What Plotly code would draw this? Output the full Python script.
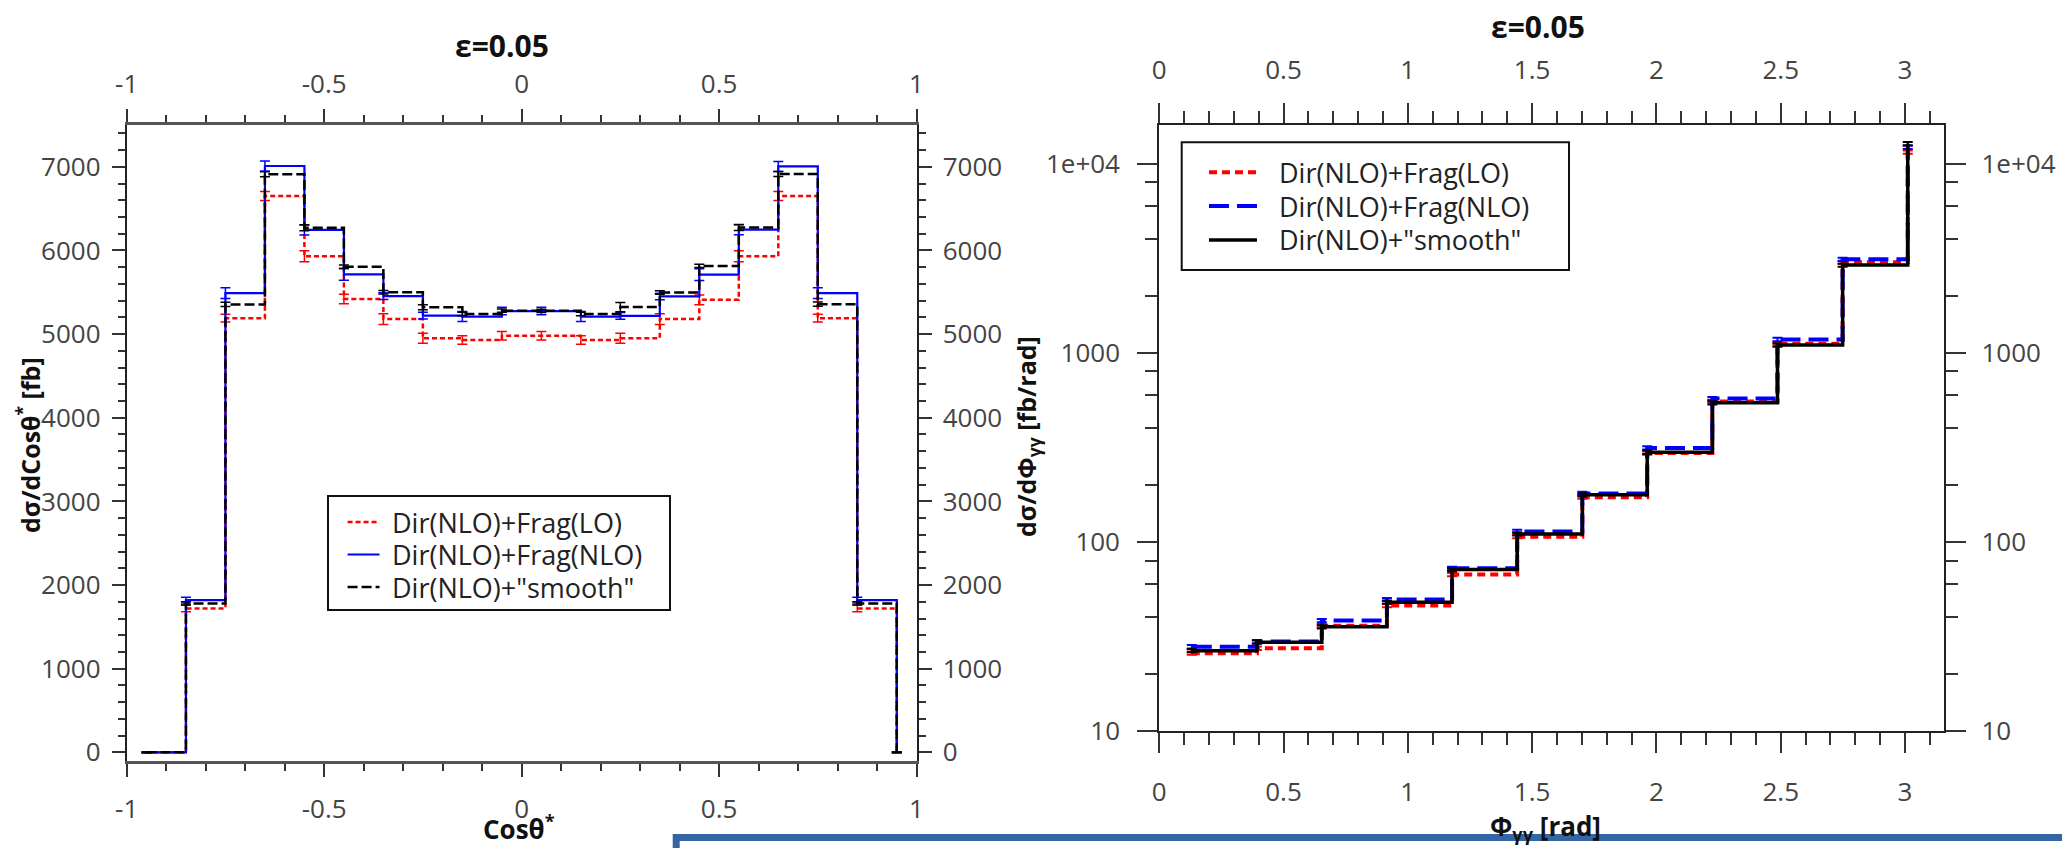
import plotly.graph_objects as go

# ---------------- data: cos(theta*) distribution ----------------
cos_x = [-0.95, -0.85, -0.75, -0.65, -0.55, -0.45, -0.35, -0.25, -0.15, -0.05,
         0.05, 0.15, 0.25, 0.35, 0.45, 0.55, 0.65, 0.75, 0.85, 0.95]
cos_frag_lo = [0, 1720, 5190, 6650, 5930, 5420, 5180, 4950, 4930, 4980,
               4980, 4930, 4950, 5180, 5410, 5930, 6650, 5190, 1720, 0]
cos_frag_lo_err = [5, 40, 46, 54, 66, 58, 64, 60, 50, 50,
                   50, 50, 60, 64, 58, 66, 54, 46, 40, 5]
cos_frag_nlo = [0, 1820, 5490, 7010, 6245, 5715, 5455, 5220, 5210, 5275,
                5275, 5210, 5218, 5450, 5710, 6248, 7005, 5490, 1820, 0]
cos_frag_nlo_err = [5, 35, 64, 60, 60, 70, 40, 40, 60, 45,
                    45, 60, 40, 40, 70, 60, 60, 64, 35, 5]
cos_smooth = [0, 1780, 5355, 6912, 6272, 5805, 5500, 5322, 5240, 5280,
              5278, 5240, 5323, 5498, 5815, 6275, 6914, 5358, 1780, 0]
cos_smooth_err = [5, 20, 25, 30, 35, 20, 20, 30, 20, 20,
                  20, 20, 56, 20, 20, 35, 30, 25, 20, 5]

# ---------------- data: azimuthal separation distribution ----------------
phi_x = [0.131, 0.393, 0.654, 0.916, 1.178, 1.440, 1.702, 1.963, 2.225, 2.487, 2.749, 3.011]
phi_frag_lo = [25.9, 27.5, 36.2, 46.2, 67.4, 107, 173, 296, 555, 1120, 3020, 11550]
phi_frag_nlo = [28.0, 29.8, 38.5, 49.7, 72.8, 114, 181, 315, 575, 1180, 3130, 12250]
phi_smooth = [26.7, 29.6, 35.7, 48.2, 71.6, 110.6, 178, 299, 546, 1102, 2920, 12800]
phi_rel_err = 0.02

# ---------------- tick labels ----------------
cos_ticks = [-1, -0.5, 0, 0.5, 1]
cos_ticktext = ["-1", "-0.5", "0", "0.5", "1"]
cos_yticks = [0, 1000, 2000, 3000, 4000, 5000, 6000, 7000]
phi_ticks = [0, 0.5, 1, 1.5, 2, 2.5, 3]
phi_ticktext = ["0", "0.5", "1", "1.5", "2", "2.5", "3"]
phi_yticks = [10, 100, 1000, 10000]
phi_yticktext = ["10", "100", "1000", "1e+04"]
phi_yminor = [m * 10 ** d for d in range(1, 5) for m in (2, 4, 6, 8)]

names = ['Dir(NLO)+Frag(LO)', 'Dir(NLO)+Frag(NLO)', 'Dir(NLO)+"smooth"']

W, H = 2062, 848


def px(xp):
    return xp / W


def py(yp):
    return 1 - yp / H


FONT = "Open Sans"
TICKFONT = dict(family=FONT, size=26, color="#444")

# line styles: (colour, dash, width)
left_styles = [("#ff0000", "5px,3px", 2.5), ("#0000ff", "solid", 2.2), ("#000000", "10px,4px", 2.5)]
right_styles = [("#ff0000", "8px,5px", 4), ("#0000ff", "20px,8px", 4), ("#000000", "solid", 3.5)]

fig = go.Figure()

# left panel traces
for vals, errs, (col, dash, lw) in zip([cos_frag_lo, cos_frag_nlo, cos_smooth],
                                       [cos_frag_lo_err, cos_frag_nlo_err, cos_smooth_err],
                                       left_styles):
    fig.add_trace(go.Scatter(
        x=cos_x, y=vals, mode="lines", xaxis="x", yaxis="y", showlegend=False,
        line=dict(color=col, dash=dash, width=lw, shape="hv"),
        error_y=dict(type="data", array=errs, color=col, thickness=1.5, width=5),
    ))

# right panel traces
for vals, (col, dash, lw) in zip([phi_frag_lo, phi_frag_nlo, phi_smooth], right_styles):
    fig.add_trace(go.Scatter(
        x=phi_x, y=vals, mode="lines", xaxis="x2", yaxis="y2", showlegend=False,
        line=dict(color=col, dash=dash, width=lw, shape="hv"),
        error_y=dict(type="data", array=[v * phi_rel_err for v in vals],
                     color=col, thickness=2, width=5),
    ))

# empty traces so the mirrored (top / right) axes get drawn
fig.add_trace(go.Scatter(x=[None], y=[None], xaxis="x3", yaxis="y3", showlegend=False, hoverinfo="skip"))
fig.add_trace(go.Scatter(x=[None], y=[None], xaxis="x4", yaxis="y4", showlegend=False, hoverinfo="skip"))

L_dom_x = [px(126.7), px(916.5)]
L_dom_y = [py(760.7), py(125)]
R_dom_x = [px(1159.2), px(1944.3)]
R_dom_y = [py(731.3), py(125)]

common = dict(showgrid=False, zeroline=False, showline=True, ticks="outside",
              tickwidth=2, tickcolor="#333", tickfont=TICKFONT, automargin=False)

left_x = dict(common, domain=L_dom_x, range=[-1, 1], tickmode="array",
              tickvals=cos_ticks, ticktext=cos_ticktext, ticklen=13,
              linecolor="#555", linewidth=3,
              minor=dict(tickmode="linear", tick0=0, dtick=0.1, ticklen=7,
                         tickwidth=2, tickcolor="#333", ticks="outside"))
left_y = dict(common, domain=L_dom_y, range=[-100, 7500], tickmode="array",
              tickvals=cos_yticks, ticktext=[str(v) for v in cos_yticks], ticklen=13,
              linecolor="#222", linewidth=2,
              minor=dict(tickmode="linear", tick0=0, dtick=200, ticklen=7,
                         tickwidth=2, tickcolor="#333", ticks="outside"))
right_x = dict(common, domain=R_dom_x, range=[0, 3.158], tickmode="array",
               tickvals=phi_ticks, ticktext=phi_ticktext, ticklen=20,
               linecolor="#222", linewidth=2,
               minor=dict(tickmode="linear", tick0=0, dtick=0.1, ticklen=12,
                          tickwidth=2, tickcolor="#333", ticks="outside"))
right_y = dict(common, domain=R_dom_y, type="log", range=[1, 4.206], tickmode="array",
               tickvals=phi_yticks, ticktext=phi_yticktext, ticklen=20,
               linecolor="#222", linewidth=2,
               minor=dict(tickmode="array", tickvals=phi_yminor, ticklen=12,
                          tickwidth=2, tickcolor="#333", ticks="outside"))

fig.update_layout(
    width=W, height=H,
    margin=dict(l=0, r=0, t=0, b=0, autoexpand=False),
    paper_bgcolor="white", plot_bgcolor="white",
    showlegend=False,
    xaxis=dict(left_x, anchor="y", side="bottom", ticklabelstandoff=10),
    xaxis3=dict(left_x, anchor="y", side="top", overlaying="x", ticklabelstandoff=6),
    yaxis=dict(left_y, anchor="x", side="left", ticklabelstandoff=6),
    yaxis3=dict(left_y, anchor="x", side="right", overlaying="y", ticklabelstandoff=6),
    xaxis2=dict(right_x, anchor="y2", side="bottom", ticklabelstandoff=16),
    xaxis4=dict(right_x, anchor="y2", side="top", overlaying="x2", ticklabelstandoff=14),
    yaxis2=dict(right_y, anchor="x2", side="left", ticklabelstandoff=12),
    yaxis4=dict(right_y, anchor="x2", side="right", overlaying="y2", ticklabelstandoff=10),
)

shapes = []
annotations = []

# legend boxes: (box x0, y0, x1, y1, sample x0, x1, text x, row ys, styles)
legends = [
    (328, 496, 670, 610, 347.6, 379.5, 390, [522, 554.5, 587], left_styles),
    (1181.7, 142.3, 1569, 270, 1209, 1257, 1277, [172.3, 206, 240], right_styles),
]
for bx0, by0, bx1, by1, sx0, sx1, tx, rows, styles in legends:
    shapes.append(dict(type="rect", xref="paper", yref="paper",
                       x0=px(bx0), x1=px(bx1), y0=py(by1), y1=py(by0),
                       line=dict(color="#111", width=2), fillcolor="white", layer="above"))
    for name, ry, (col, dash, lw) in zip(names, rows, styles):
        shapes.append(dict(type="line", xref="paper", yref="paper",
                           x0=px(sx0), x1=px(sx1), y0=py(ry), y1=py(ry),
                           line=dict(color=col, dash=dash, width=lw), layer="above"))
        annotations.append(dict(x=px(tx), y=py(ry), text=name, xanchor="left", yanchor="middle",
                                font=dict(family=FONT, size=27, color="#222")))

TITLE_FONT = dict(family=FONT, size=30, color="#111")
AX_FONT = dict(family=FONT, size=25, color="#111")
annotations += [
    dict(x=px(502), y=py(46), text="<b>ε=0.05</b>", font=TITLE_FONT),
    dict(x=px(1538), y=py(26), text="<b>ε=0.05</b>", font=TITLE_FONT),
    dict(x=px(519), y=py(828), text="<b>Cosθ<sup>*</sup></b>", font=dict(AX_FONT, size=26)),
    dict(x=px(1545), y=py(827), text="<b>Φ<sub>γγ</sub> [rad]</b>", font=dict(AX_FONT, size=26)),
    dict(x=px(28), y=py(445), text="<b>dσ/dCosθ<sup>*</sup> [fb]</b>", font=AX_FONT, textangle=-90),
    dict(x=px(1027), y=py(437), text="<b>dσ/dΦ<sub>γγ</sub> [fb/rad]</b>", font=AX_FONT, textangle=-90),
]
for a in annotations:
    a.setdefault("xanchor", "center")
    a.setdefault("yanchor", "middle")
    a.update(xref="paper", yref="paper", showarrow=False)

# framed panel overlapping the bottom edge
shapes.append(dict(type="rect", xref="paper", yref="paper",
                   x0=px(676.2), x1=px(2110), y0=py(900), y1=py(837.5),
                   line=dict(color="#3465a4", width=7), fillcolor="white", layer="above"))

fig.update_layout(shapes=shapes, annotations=annotations)

fig.write_html("out.html")
